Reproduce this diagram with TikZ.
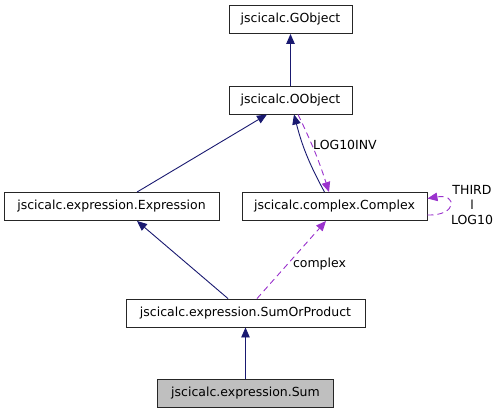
\documentclass[tikz,border=0pt]{standalone}
\usepackage{fontspec}
\setmainfont{DejaVu Sans}
\usetikzlibrary{arrows.meta,positioning,calc}
\definecolor{navyline}{RGB}{25,25,112}
\definecolor{purpleline}{RGB}{154,50,205}
\definecolor{boxgray}{RGB}{191,191,191}
\tikzset{
classbox/.style={
  draw=black!85,
  rectangle,
  line width=0.9pt,
  inner sep=0pt,
  minimum height=28pt,
  font=\fontsize{12.5}{14}\selectfont
  },
inherit/.style={draw=navyline, line width=0.9pt, -{Triangle[length=10pt,width=8.5pt]}},
uses/.style={draw=purpleline, line width=0.9pt, dash pattern=on 6pt off 4pt, -{Triangle[length=10pt,width=8.5pt]}},
edgelabel/.style={font=\fontsize{12.5}{14}\selectfont, inner sep=0pt}
}

\begin{document}
\begin{tikzpicture}[x=1pt,y=-1pt]
\useasboundingbox (0,0) rectangle (500,413);

\node [classbox, minimum width=123pt] (gobject) at (290.5,19.5) {jscicalc.GObject};
\node [classbox, minimum width=123pt] (oobject) at (290.5,100) {jscicalc.OObject};
\node [classbox, minimum width=215pt] (expression) at (111.5,206.5) {jscicalc.expression.Expression};
\node [classbox, minimum width=185pt] (complex) at (334.5,206.5) {jscicalc.complex.Complex};
\node [classbox, minimum width=239pt] (sumorproduct) at (245.5,313) {jscicalc.expression.SumOrProduct};
\node [classbox, minimum width=176pt, fill=boxgray] (sum) at (245.5,393) {jscicalc.expression.Sum};

% inheritance
\draw [inherit] (oobject) -- (gobject);
\draw [inherit] ([xshift=25.5pt]expression.north) -- ([xshift=-23.5pt]oobject.south);
\draw [inherit] ([xshift=-10pt]complex.north) to [bend left=7] ([xshift=3.5pt]oobject.south);
\draw [inherit] ([xshift=-17.5pt]sumorproduct.north) -- ([xshift=25.5pt]expression.south);
\draw [inherit] (sum) -- (sumorproduct);

% usage
\draw [uses] ([xshift=7.5pt]oobject.south) to [bend left=4] ([xshift=-5.5pt]complex.north);
\node [edgelabel] (lbllog) at (345,145) {LOG10INV};
\draw [uses] ([xshift=11.5pt]sumorproduct.north) -- ([xshift=-8.5pt]complex.south);
\node [edgelabel] (lblcomplex) at (319.5,264) {complex};
\draw [uses] ([yshift=-8.5pt]complex.east) .. controls +(30pt,-1pt) and +(30pt,5pt) .. ([yshift=8pt]complex.east);
\node [edgelabel, align=center] (lblthird) at (472,205) {THIRD\\[1pt]l\\[1pt]LOG10};

\end{tikzpicture}
\end{document}
